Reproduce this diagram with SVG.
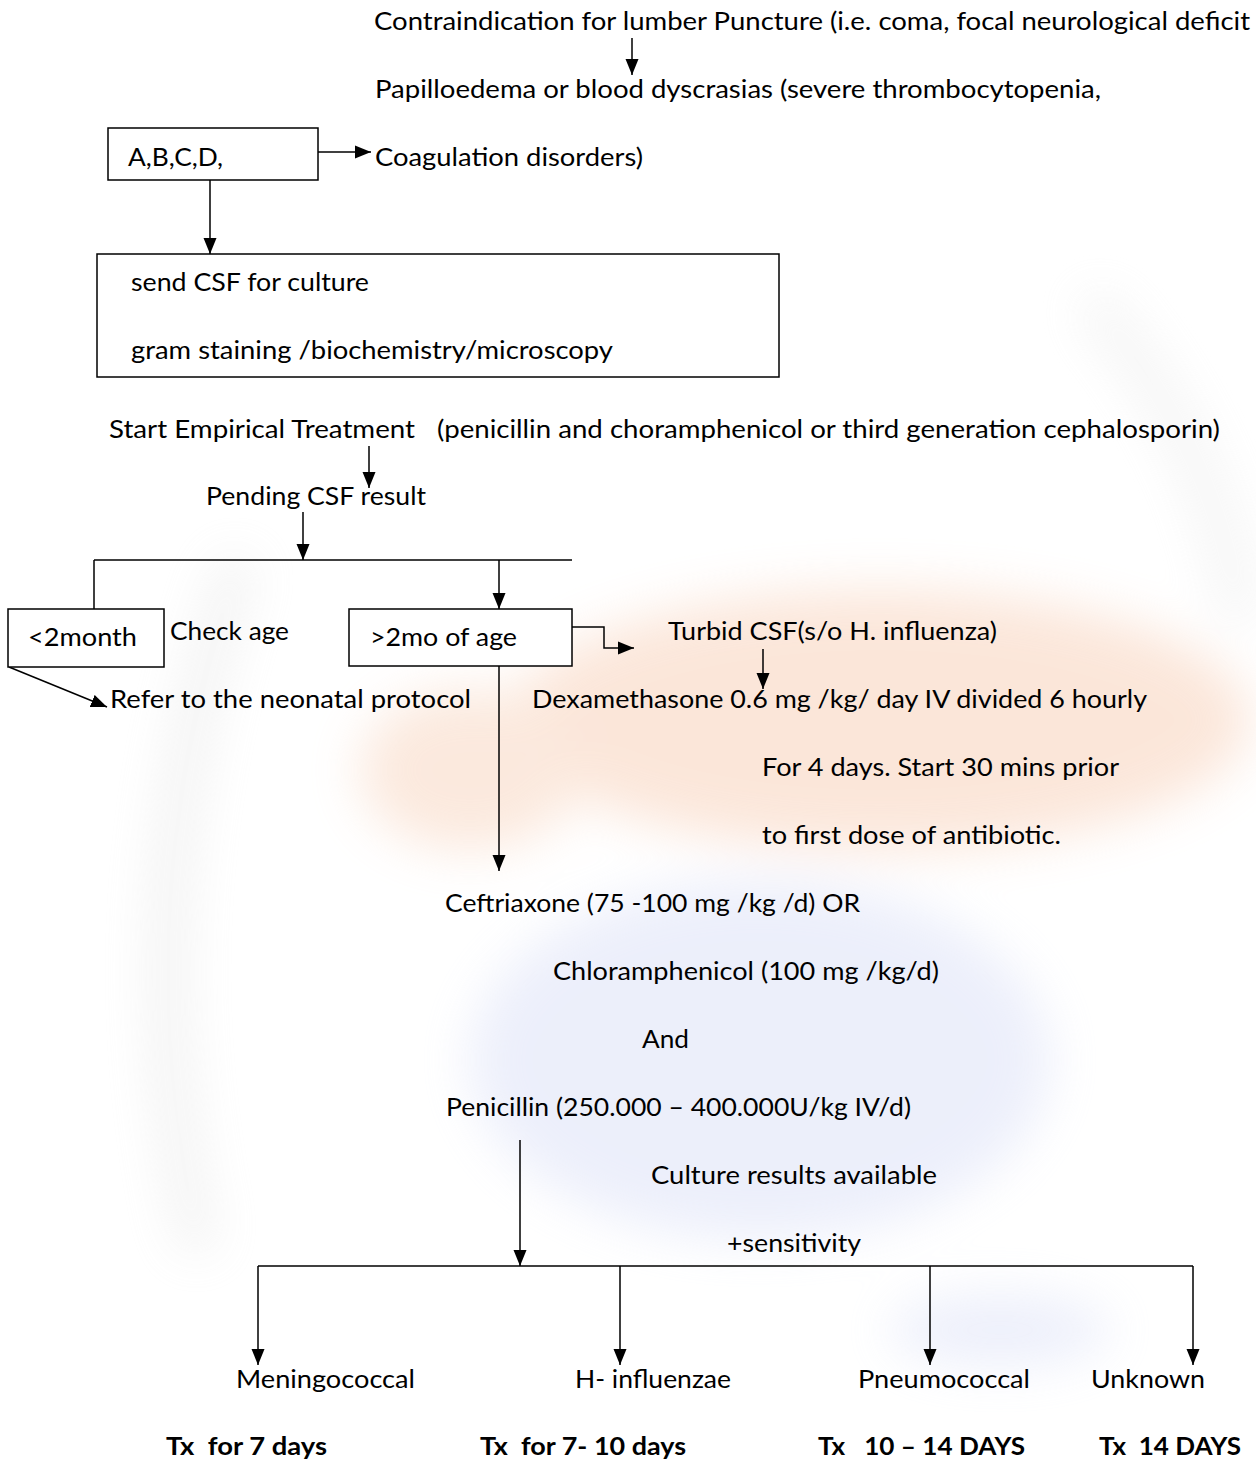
<svg xmlns="http://www.w3.org/2000/svg" width="1256" height="1462" viewBox="0 0 1256 1462">
<defs>
<marker id="ah" markerUnits="userSpaceOnUse" markerWidth="16" markerHeight="14" viewBox="0 0 16 14" refX="16" refY="7" orient="auto">
<path d="M0,0.5 L16,7 L0,13.5 Z" fill="#000"/>
</marker>
<filter id="blur" x="-20%" y="-20%" width="140%" height="140%"><feGaussianBlur stdDeviation="25"/></filter>
</defs>
<style>
text{font-family:Lato,"Open Sans","Liberation Sans",sans-serif;font-size:25px;fill:#000;white-space:pre}
.b{font-weight:bold}
.box{fill:#fff;stroke:#000;stroke-width:1.5}
.ln{fill:none;stroke:#000;stroke-width:1.5}
.ar{fill:none;stroke:#000;stroke-width:1.5;marker-end:url(#ah)}
</style>
<rect width="1256" height="1462" fill="#fff"/>
<g id="watermark" filter="url(#blur)" opacity="0.45">
<ellipse cx="880" cy="720" rx="370" ry="130" fill="#f7c9ad"/>
<ellipse cx="470" cy="770" rx="110" ry="80" fill="#f7cfb5"/>
<ellipse cx="760" cy="1060" rx="290" ry="180" fill="#d6dcf6"/>
<ellipse cx="1000" cy="1330" rx="110" ry="35" fill="#d6dcf6"/>
<path d="M200,1250 Q120,900 240,560" stroke="#dcdcdc" stroke-width="30" fill="none"/>
<path d="M1090,300 Q1220,450 1240,620" stroke="#e2e2e2" stroke-width="30" fill="none"/>
</g>
<g id="connectors">
<line class="ar" x1="632" y1="38" x2="632" y2="75"/>
<line class="ar" x1="318" y1="152" x2="371" y2="152"/>
<line class="ar" x1="210" y1="180" x2="210" y2="254"/>
<line class="ar" x1="369" y1="446" x2="369" y2="488"/>
<line class="ar" x1="303" y1="512" x2="303" y2="560"/>
<line class="ln" x1="94" y1="560" x2="572" y2="560"/>
<line class="ln" x1="94" y1="560" x2="94" y2="609"/>
<line class="ar" x1="499" y1="560" x2="499" y2="609"/>
<polyline class="ar" points="572,627 604,627 604,648 634,648"/>
<line class="ar" x1="763" y1="649" x2="763" y2="689"/>
<line class="ar" x1="9" y1="667" x2="107" y2="707"/>
<line class="ar" x1="499" y1="666" x2="499" y2="871"/>
<line class="ar" x1="520" y1="1140" x2="520" y2="1266"/>
<line class="ln" x1="258" y1="1266" x2="1193" y2="1266"/>
<line class="ar" x1="258" y1="1266" x2="258" y2="1365"/>
<line class="ar" x1="620" y1="1266" x2="620" y2="1365"/>
<line class="ar" x1="930" y1="1266" x2="930" y2="1365"/>
<line class="ar" x1="1193" y1="1266" x2="1193" y2="1365"/>
</g>
<g id="contraindication">
<text x="374" y="30" textLength="876" lengthAdjust="spacingAndGlyphs">Contraindication for lumber Puncture (i.e. coma, focal neurological deficit</text>
<text x="375" y="98" textLength="726" lengthAdjust="spacingAndGlyphs">Papilloedema or blood dyscrasias (severe thrombocytopenia,</text>
</g>
<g id="abcd">
<rect class="box" x="108" y="128" width="210" height="52"/>
<text x="128" y="166" textLength="95" lengthAdjust="spacingAndGlyphs">A,B,C,D,</text>
</g>
<g id="coagulation">
<text x="375" y="166" textLength="268" lengthAdjust="spacingAndGlyphs">Coagulation disorders)</text>
</g>
<g id="sendcsf">
<rect class="box" x="97" y="254" width="682" height="123"/>
<text x="131" y="291" textLength="238" lengthAdjust="spacingAndGlyphs">send CSF for culture</text>
<text x="131" y="359" textLength="482" lengthAdjust="spacingAndGlyphs">gram staining /biochemistry/microscopy</text>
</g>
<g id="empirical">
<text x="109" y="438" textLength="306" lengthAdjust="spacingAndGlyphs">Start Empirical Treatment</text>
<text x="437" y="438" textLength="783" lengthAdjust="spacingAndGlyphs">(penicillin and choramphenicol or third generation cephalosporin)</text>
</g>
<g id="pending">
<text x="206" y="505" textLength="220" lengthAdjust="spacingAndGlyphs">Pending CSF result</text>
</g>
<g id="lt2month">
<rect class="box" x="8" y="609" width="156" height="58"/>
<text x="28" y="646" textLength="109" lengthAdjust="spacingAndGlyphs">&lt;2month</text>
</g>
<g id="checkage">
<text x="170" y="640" textLength="119" lengthAdjust="spacingAndGlyphs">Check age</text>
</g>
<g id="gt2mo">
<rect class="box" x="349" y="609" width="223" height="57"/>
<text x="370" y="646" textLength="147" lengthAdjust="spacingAndGlyphs">&gt;2mo of age</text>
</g>
<g id="turbid">
<text x="668" y="640" textLength="329" lengthAdjust="spacingAndGlyphs">Turbid CSF(s/o H. influenza)</text>
</g>
<g id="neonatal">
<text x="110" y="708" textLength="361" lengthAdjust="spacingAndGlyphs">Refer to the neonatal protocol</text>
</g>
<g id="dexamethasone">
<text x="532" y="708" textLength="615" lengthAdjust="spacingAndGlyphs">Dexamethasone 0.6 mg /kg/ day IV divided 6 hourly</text>
<text x="762" y="776" textLength="357" lengthAdjust="spacingAndGlyphs">For 4 days. Start 30 mins prior</text>
<text x="762" y="844" textLength="299" lengthAdjust="spacingAndGlyphs">to first dose of antibiotic.</text>
</g>
<g id="regimen">
<text x="445" y="912" textLength="415" lengthAdjust="spacingAndGlyphs">Ceftriaxone (75 -100 mg /kg /d) OR</text>
<text x="553" y="980" textLength="386" lengthAdjust="spacingAndGlyphs">Chloramphenicol (100 mg /kg/d)</text>
<text x="642" y="1048" textLength="47" lengthAdjust="spacingAndGlyphs">And</text>
<text x="446" y="1116" textLength="465" lengthAdjust="spacingAndGlyphs">Penicillin (250.000 – 400.000U/kg IV/d)</text>
</g>
<g id="culture">
<text x="651" y="1184" textLength="286" lengthAdjust="spacingAndGlyphs">Culture results available</text>
<text x="727" y="1252" textLength="134" lengthAdjust="spacingAndGlyphs">+sensitivity</text>
</g>
<g id="meningococcal">
<text x="236" y="1388" textLength="179" lengthAdjust="spacingAndGlyphs">Meningococcal</text>
<text class="b" x="166" y="1455" textLength="161" lengthAdjust="spacingAndGlyphs">Tx  for 7 days</text>
</g>
<g id="hinfluenzae">
<text x="575" y="1388" textLength="156" lengthAdjust="spacingAndGlyphs">H- influenzae</text>
<text class="b" x="480" y="1455" textLength="206" lengthAdjust="spacingAndGlyphs">Tx  for 7- 10 days</text>
</g>
<g id="pneumococcal">
<text x="858" y="1388" textLength="172" lengthAdjust="spacingAndGlyphs">Pneumococcal</text>
<text class="b" x="818" y="1455" textLength="207" lengthAdjust="spacingAndGlyphs">Tx   10 – 14 DAYS</text>
</g>
<g id="unknown">
<text x="1091" y="1388" textLength="114" lengthAdjust="spacingAndGlyphs">Unknown</text>
<text class="b" x="1099" y="1455" textLength="142" lengthAdjust="spacingAndGlyphs">Tx  14 DAYS</text>
</g>
</svg>
